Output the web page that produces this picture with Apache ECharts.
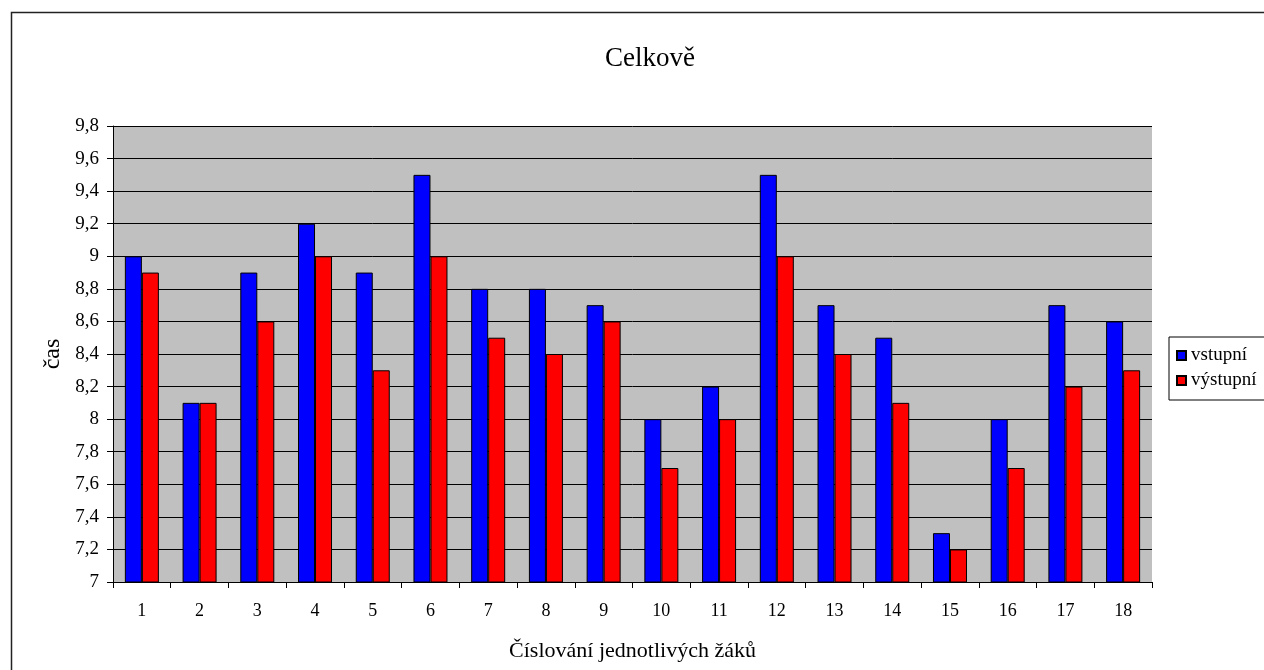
<!DOCTYPE html>
<html>
<head>
<meta charset="utf-8">
<script src="https://cdn.jsdelivr.net/npm/echarts@6/dist/echarts.min.js"></script>
<style>
  html, body { margin: 0; padding: 0; background: #fff; }
  #chart { width: 1264px; height: 670px; }
</style>
</head>
<body>
<div id="chart"></div>
<script>
// Students numbered 1..18
const categories = ['1','2','3','4','5','6','7','8','9','10','11','12','13','14','15','16','17','18'];
// Entry times (vstupní)
const vstupni = [9.0, 8.1, 8.9, 9.2, 8.9, 9.5, 8.8, 8.8, 8.7, 8.0, 8.2, 9.5, 8.7, 8.5, 7.3, 8.0, 8.7, 8.6];
// Exit times (výstupní)
const vystupni = [8.9, 8.1, 8.6, 9.0, 8.3, 9.0, 8.5, 8.4, 8.6, 7.7, 8.0, 9.0, 8.4, 8.1, 7.2, 7.7, 8.2, 8.3];
// Value axis range
const yMin = 7, yMax = 9.8, yStep = 0.2;

const FONT = '"Liberation Serif", "Times New Roman", serif';
const chart = echarts.init(document.getElementById('chart'), null, { renderer: 'canvas' });

chart.setOption({
  animation: false,
  backgroundColor: '#ffffff',
  textStyle: { fontFamily: FONT, color: '#000' },
  title: {
    text: 'Celkově',
    left: 645,
    top: 40,
    textAlign: 'center',
    textStyle: { fontFamily: FONT, fontSize: 27, fontWeight: 'normal', color: '#000' }
  },
  graphic: [{
    type: 'rect',
    shape: { x: 11.5, y: 12.5, width: 1400, height: 800 },
    style: { fill: 'none', stroke: '#222', lineWidth: 1.5 },
    silent: true,
    z: -1
  }],
  legend: {
    orient: 'vertical',
    left: 1169,
    top: 337,
    padding: [9, 40, 10, 7],
    itemGap: 6,
    itemWidth: 9,
    itemHeight: 9,
    borderColor: '#000',
    borderWidth: 1,
    backgroundColor: '#fff',
    icon: 'rect',
    textStyle: { fontFamily: FONT, fontSize: 19, color: '#000' },
    data: ['vstupní', 'výstupní']
  },
  grid: {
    left: 113,
    right: 112,
    top: 126,
    bottom: 88,
    show: true,
    backgroundColor: '#c0c0c0',
    borderWidth: 0
  },
  xAxis: {
    type: 'category',
    data: categories,
    name: 'Číslování jednotlivých žáků',
    nameLocation: 'middle',
    nameGap: 58,
    nameTextStyle: { fontFamily: FONT, fontSize: 22, color: '#000' },
    axisLine: { lineStyle: { color: '#000', width: 1 } },
    axisTick: { show: true, length: 6, lineStyle: { color: '#000' } },
    axisLabel: { fontFamily: FONT, fontSize: 18, color: '#000', margin: 20 },
    splitLine: { show: false }
  },
  yAxis: {
    type: 'value',
    min: yMin,
    max: yMax,
    interval: yStep,
    name: 'čas',
    nameLocation: 'middle',
    nameGap: 26,
    nameRotate: 90,
    nameTextStyle: { fontFamily: FONT, fontSize: 24, color: '#000' },
    axisLine: { show: true, lineStyle: { color: '#000', width: 1 } },
    axisTick: { show: true, length: 6, lineStyle: { color: '#000' } },
    axisLabel: {
      fontFamily: FONT, fontSize: 19, color: '#000', margin: 14,
      formatter: v => String(Math.round(v * 10) / 10).replace('.', ',')
    },
    splitLine: { show: true, lineStyle: { color: '#000', width: 1 } }
  },
  series: [
    {
      name: 'vstupní',
      type: 'bar',
      data: vstupni,
      barWidth: 17,
      barGap: '0%',
      itemStyle: { color: '#0000ff', borderColor: '#000', borderWidth: 1 }
    },
    {
      name: 'výstupní',
      type: 'bar',
      data: vystupni,
      barWidth: 17,
      barGap: '0%',
      itemStyle: { color: '#ff0000', borderColor: '#000', borderWidth: 1 }
    }
  ]
});
</script>
</body>
</html>
